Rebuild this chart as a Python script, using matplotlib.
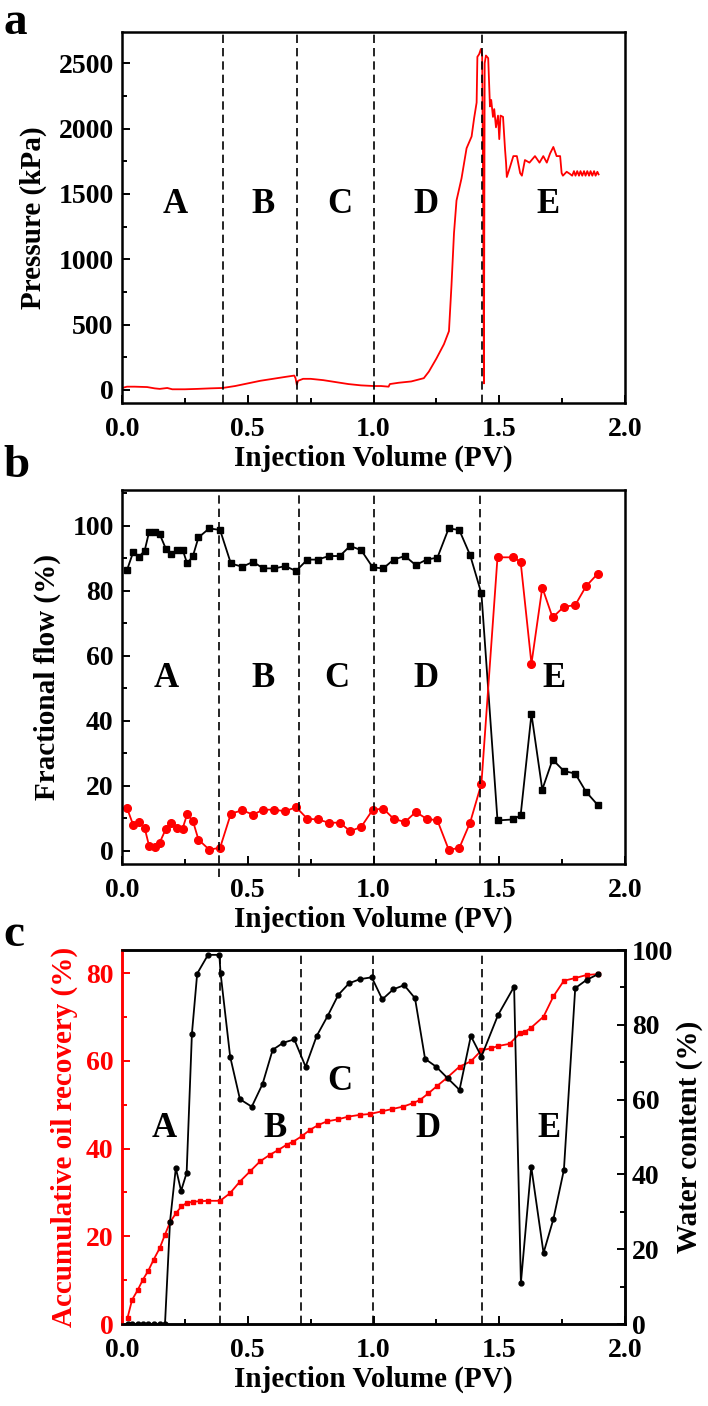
import numpy as np
import matplotlib.pyplot as plt
from matplotlib.ticker import MultipleLocator

plt.rcParams['font.family'] = ['Liberation Serif', 'DejaVu Serif']
plt.rcParams['font.weight'] = 'bold'
plt.rcParams['axes.labelweight'] = 'bold'
plt.rcParams['mathtext.default'] = 'regular'

# ---- panel a: pressure vs injection volume ----
pv_a = [0.00, 0.02, 0.05, 0.10, 0.13, 0.15, 0.18, 0.20, 0.25, 0.30, 0.35, 0.40,
        0.45, 0.50, 0.55, 0.60, 0.65, 0.685, 0.69, 0.695, 0.70, 0.72, 0.75, 0.80,
        0.85, 0.90, 0.95, 1.00, 1.03, 1.06, 1.065, 1.10, 1.15, 1.20, 1.22, 1.25,
        1.28, 1.30, 1.31, 1.32, 1.33, 1.35, 1.37, 1.39, 1.40, 1.41, 1.413, 1.42,
        1.427, 1.432, 1.436, 1.439, 1.442, 1.447, 1.456, 1.463, 1.468, 1.475,
        1.48, 1.487, 1.495, 1.50, 1.505, 1.515, 1.523, 1.527, 1.53, 1.54, 1.556,
        1.57, 1.583, 1.59, 1.602, 1.62, 1.642, 1.66, 1.675, 1.689, 1.702, 1.715,
        1.728, 1.742, 1.748, 1.753, 1.768, 1.78, 1.79, 1.797, 1.803, 1.81, 1.817,
        1.823, 1.83, 1.837, 1.843, 1.85, 1.857, 1.863, 1.87, 1.877, 1.883, 1.89,
        1.895]
pressure = [15, 25, 25, 22, 12, 8, 15, 5, 5, 8, 12, 15,
            30, 50, 70, 85, 100, 110, 90, 40, 70, 85, 85, 75,
            60, 45, 35, 30, 30, 25, 45, 55, 65, 90, 140, 240,
            350, 450, 800, 1200, 1450, 1620, 1850, 1940, 2080, 2200, 2550, 2570,
            2610, 2560, 1500, 50, 2500, 2560, 2540, 2170, 2220, 2090,
            2150, 2010, 2100, 1920, 2100, 2090, 1840, 1740, 1630, 1690, 1790,
            1790, 1660, 1640, 1760, 1740, 1790, 1740, 1790, 1740, 1810, 1860,
            1790, 1790, 1660, 1640, 1670, 1655, 1640, 1675, 1640, 1675, 1640,
            1675, 1640, 1675, 1640, 1675, 1640, 1675, 1640, 1675, 1640, 1670,
            1650]

# ---- panel b: fractional flow ----
pv_b = [0.020, 0.045, 0.068, 0.090, 0.108, 0.131, 0.150, 0.174, 0.196, 0.219,
        0.241, 0.259, 0.282, 0.304, 0.347, 0.390, 0.433, 0.478, 0.521, 0.562,
        0.606, 0.649, 0.692, 0.737, 0.778, 0.823, 0.866, 0.907, 0.951, 0.997,
        1.039, 1.080, 1.125, 1.168, 1.211, 1.254, 1.299, 1.341, 1.384, 1.429,
        1.493, 1.556, 1.585, 1.628, 1.671, 1.712, 1.757, 1.802, 1.845, 1.892]
flow_black = [86.4, 92.0, 90.5, 92.3, 98.2, 98.2, 97.4, 93.0, 91.2, 92.7,
              92.7, 88.4, 90.7, 96.4, 99.2, 98.7, 88.4, 87.4, 88.9, 86.9,
              86.9, 87.6, 86.1, 89.6, 89.6, 90.7, 90.7, 93.8, 92.5, 87.2,
              86.9, 89.6, 90.7, 87.9, 89.6, 90.2, 99.2, 98.7, 91.0, 79.2,
              9.4, 9.7, 11.0, 42.1, 18.9, 28.1, 24.6, 23.8, 18.2, 14.1]
flow_red = [13.2, 7.9, 8.9, 7.1, 1.5, 1.2, 2.6, 6.7, 8.6, 7.1,
            6.9, 11.3, 9.2, 3.5, 0.4, 1.0, 11.5, 12.5, 11.2, 12.7,
            12.7, 12.2, 13.5, 9.9, 9.7, 8.7, 8.7, 6.1, 7.4, 12.7,
            13.0, 9.9, 8.9, 12.0, 9.9, 9.4, 0.4, 0.9, 8.7, 20.7,
            90.3, 90.3, 88.9, 57.6, 81.0, 71.8, 75.1, 75.6, 81.4, 85.3]

# ---- panel c: oil recovery and water content ----
pv_oil = [0.022, 0.040, 0.063, 0.083, 0.105, 0.126, 0.150, 0.171, 0.191, 0.215,
          0.236, 0.257, 0.284, 0.310, 0.343, 0.390, 0.429, 0.469, 0.509, 0.549,
          0.588, 0.622, 0.655, 0.681, 0.714, 0.748, 0.781, 0.814, 0.860, 0.900,
          0.946, 0.986, 1.033, 1.072, 1.119, 1.158, 1.185, 1.218, 1.251, 1.291,
          1.342, 1.387, 1.429, 1.468, 1.495, 1.541, 1.582, 1.604, 1.625, 1.676,
          1.715, 1.757, 1.802, 1.847, 1.892]
oil_recovery = [1.4, 5.5, 7.8, 10.1, 12.2, 14.7, 17.3, 20.4, 23.2, 25.3,
                26.8, 27.6, 27.9, 28.0, 28.1, 28.1, 29.8, 32.5, 34.8, 37.1,
                38.6, 39.7, 40.9, 41.6, 42.8, 44.3, 45.4, 46.2, 46.7, 47.3,
                47.7, 47.9, 48.5, 49.0, 49.6, 50.4, 51.1, 52.6, 54.2, 56.1,
                58.7, 59.9, 62.4, 62.9, 63.4, 63.9, 66.3, 66.7, 67.5, 70.1,
                74.7, 78.3, 78.9, 79.6, 79.8]
pv_water = [0.022, 0.040, 0.063, 0.083, 0.105, 0.126, 0.150, 0.171, 0.191, 0.214,
            0.235, 0.257, 0.278, 0.299, 0.342, 0.387, 0.392, 0.430, 0.469, 0.516,
            0.559, 0.599, 0.641, 0.685, 0.730, 0.774, 0.818, 0.860, 0.903, 0.946,
            0.993, 1.035, 1.079, 1.122, 1.165, 1.205, 1.249, 1.295, 1.342, 1.387,
            1.429, 1.495, 1.559, 1.586, 1.627, 1.676, 1.715, 1.757, 1.802, 1.847,
            1.892]
water_content = [0, 0, 0, 0, 0, 0, 0, 0, 27.4, 41.7,
                 35.6, 40.4, 77.6, 93.7, 98.7, 98.7, 93.8, 71.5, 60.1, 58.1,
                 64.2, 73.3, 75.2, 76.1, 68.8, 77.0, 82.4, 88.0, 91.1, 92.2,
                 92.7, 86.8, 89.5, 90.6, 87.1, 70.9, 68.8, 65.7, 62.6, 77.0,
                 71.5, 82.6, 90.2, 11.0, 42.1, 19.0, 28.0, 41.2, 89.8, 92.0,
                 93.5]

stages = ['A', 'B', 'C', 'D', 'E']
bounds_a = [0.40, 0.697, 1.003, 1.432]
bounds_b = [0.385, 0.703, 1.003, 1.425]
bounds_c = [0.39, 0.713, 0.999, 1.43]
stage_x_a = [0.212, 0.562, 0.868, 1.209, 1.694]
stage_x_b = [0.176, 0.562, 0.854, 1.209, 1.716]
stage_x_c = [0.167, 0.607, 0.868, 1.218, 1.698]
stage_y_c = [44.7, 44.7, 55.3, 44.7, 44.7]

TICK = 20
LAB = 21
STG = 25
red = '#ff0000'

fig = plt.figure(figsize=(7.08, 14.06), dpi=100)
L, W = 0.1723, 0.7105


def style(ax, ylab):
    ax.set_xlim(0, 2)
    ax.xaxis.set_major_locator(MultipleLocator(0.5))
    ax.xaxis.set_minor_locator(MultipleLocator(0.25))
    ax.tick_params(which='both', direction='in', top=False, right=False,
                   labelsize=TICK, width=1.4)
    ax.tick_params(which='major', length=6)
    ax.tick_params(which='minor', length=3.5)
    ax.tick_params(axis='x', which='major', pad=10)
    ax.tick_params(axis='y', which='major', pad=6)
    for s in ax.spines.values():
        s.set_linewidth(1.8)
    ax.set_xlabel('Injection Volume (PV)', fontsize=LAB, labelpad=2)
    if ylab:
        ax.set_ylabel(ylab, fontsize=LAB, labelpad=8)
    for lab in ax.get_xticklabels() + ax.get_yticklabels():
        lab.set_fontweight('bold')


# panel a
ax1 = fig.add_axes([L, 1 - 403 / 1406, W, 371 / 1406])
ax1.plot(pv_a, pressure, color=red, lw=1.3)
for b in bounds_a:
    ax1.axvline(b, color='black', ls=(0, (5, 3)), lw=1.2)
ax1.set_ylim(-100, 2740)
ax1.yaxis.set_major_locator(MultipleLocator(500))
ax1.yaxis.set_minor_locator(MultipleLocator(250))
style(ax1, 'Pressure (kPa)')
for s, x in zip(stages, stage_x_a):
    ax1.text(x, 1420, s, fontsize=STG, fontweight='bold', ha='center', va='center')

# panel b
ax2 = fig.add_axes([L, 1 - 864 / 1406, W, 374 / 1406])
ax2.plot(pv_b, flow_black, color='black', marker='s', ms=5, lw=1.3)
ax2.plot(pv_b, flow_red, color=red, marker='o', ms=5.5, lw=1.3)
for i, b in enumerate(bounds_b):
    lo = -0.035 if i < 2 else 0
    ax2.axvline(b, ymin=lo, ymax=1, color='black', ls=(0, (5, 3)), lw=1.2,
                clip_on=False)
ax2.set_ylim(-4, 111)
ax2.yaxis.set_major_locator(MultipleLocator(20))
ax2.yaxis.set_minor_locator(MultipleLocator(10))
style(ax2, 'Fractional flow (%)')
for s, x in zip(stages, stage_x_b):
    ax2.text(x, 53, s, fontsize=STG, fontweight='bold', ha='center', va='center')

# panel c
ax3 = fig.add_axes([L, 1 - 1324 / 1406, W, 374 / 1406])
ax4 = ax3.twinx()
ax3.plot(pv_oil, oil_recovery, color=red, marker='s', ms=3, lw=1.3, zorder=3)
ax4.plot(pv_water, water_content, color='black', marker='o', ms=3.5, lw=1.3)
for b in bounds_c:
    ax3.axvline(b, color='black', ls=(0, (5, 3)), lw=1.2)
ax3.set_ylim(0, 85.3)
ax4.set_ylim(0, 100)
ax3.yaxis.set_major_locator(MultipleLocator(20))
ax3.yaxis.set_minor_locator(MultipleLocator(10))
ax4.yaxis.set_major_locator(MultipleLocator(20))
ax4.yaxis.set_minor_locator(MultipleLocator(10))
style(ax3, None)
ax3.set_ylabel('Accumulative oil recovery (%)', fontsize=LAB, color=red, labelpad=6)
ax3.tick_params(axis='y', which='both', colors=red)
ax3.spines['left'].set_color(red)
ax4.spines['left'].set_color(red)
for s in ax4.spines.values():
    s.set_linewidth(1.8)
ax4.tick_params(which='both', direction='in', labelsize=TICK, width=1.4)
ax4.tick_params(which='major', length=6, pad=5)
ax4.tick_params(which='minor', length=3.5)
ax4.set_ylabel('Water content (%)', fontsize=LAB, labelpad=2)
for lab in ax4.get_yticklabels():
    lab.set_fontweight('bold')
for s, x, y in zip(stages, stage_x_c, stage_y_c):
    ax3.text(x, y, s, fontsize=STG, fontweight='bold', ha='center', va='center',
             zorder=5)

# panel letters
fig.text(0.005, 1 - 2 / 1406, 'a', fontsize=34, fontweight='bold', va='top')
fig.text(0.005, 1 - 466 / 1406, 'b', fontsize=34, fontweight='bold', va='center')
fig.text(0.005, 1 - 935 / 1406, 'c', fontsize=34, fontweight='bold', va='center')

fig.savefig('out.png', dpi=100)
